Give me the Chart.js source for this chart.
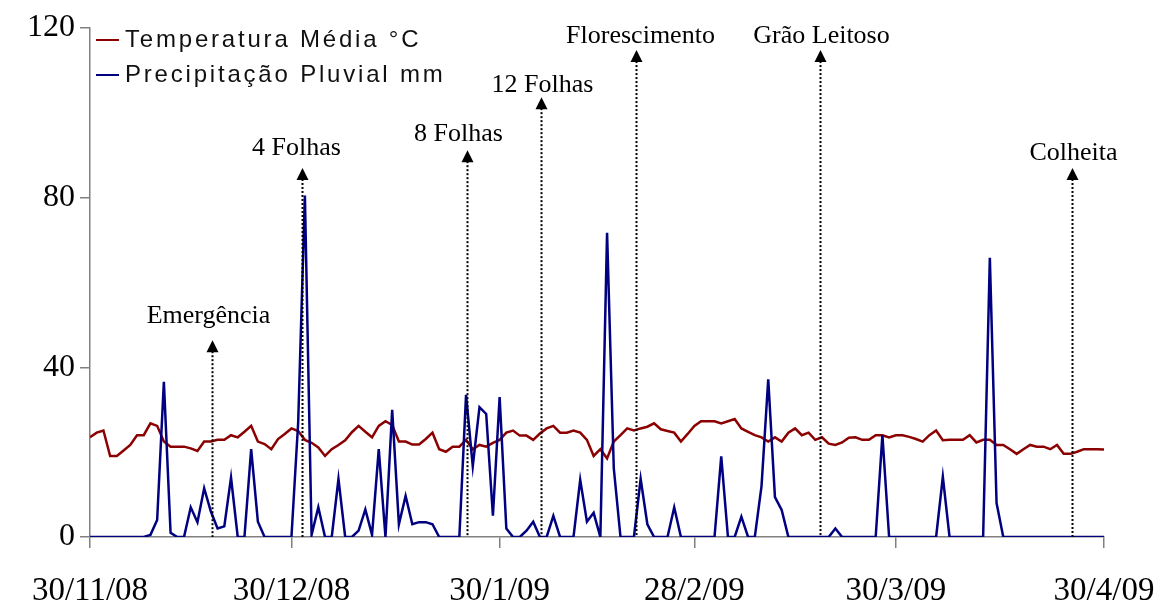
<!DOCTYPE html>
<html>
<head>
<meta charset="utf-8">
<script src="https://cdn.jsdelivr.net/npm/chart.js@4"></script>
<style>
  body { margin: 0; background: #fff; }
  #wrap { width: 1160px; height: 608px; }
</style>
</head>
<body>
<div id="wrap"><canvas id="chart" width="1160" height="608"></canvas></div>
<script>
// daily values, day 0 = 30/11/08 ... day 151 = 30/4/09
const temperatura = [
  23.5, 24.6, 25.1, 19.1, 19.1, 20.4, 21.7, 24.0, 24.0, 26.8,
  26.2, 22.5, 21.3, 21.3, 21.3, 20.9, 20.3, 22.5, 22.5, 22.9,
  22.9, 24.0, 23.5, 24.8, 26.2, 22.5, 21.9, 20.7, 23.1, 24.3,
  25.6, 25.0, 22.9, 22.2, 21.1, 19.1, 20.7, 21.7, 22.8, 24.7,
  26.2, 24.8, 23.5, 26.2, 27.3, 26.4, 22.5, 22.5, 21.8, 21.8,
  23.1, 24.6, 20.7, 20.1, 21.3, 21.3, 22.9, 20.7, 21.7, 21.3,
  22.2, 22.9, 24.6, 25.1, 23.9, 23.9, 22.9, 24.4, 25.6, 26.2,
  24.6, 24.6, 25.1, 24.6, 22.9, 19.1, 20.7, 18.5, 22.5, 24.0,
  25.6, 25.1, 25.6, 26.0, 26.8, 25.4, 25.0, 24.6, 22.5, 24.3,
  26.2, 27.3, 27.3, 27.3, 26.8, 27.3, 27.8, 25.6, 24.8, 24.0,
  23.5, 22.5, 23.5, 22.5, 24.6, 25.6, 24.0, 24.6, 22.9, 23.5,
  22.0, 21.7, 22.3, 23.4, 23.5, 22.9, 22.9, 24.0, 24.0, 23.5,
  24.0, 24.0, 23.6, 23.1, 22.5, 24.0, 25.1, 22.8, 22.9, 22.9,
  22.9, 24.0, 22.3, 22.9, 22.9, 21.7, 21.7, 20.7, 19.6, 20.7,
  21.7, 21.3, 21.3, 20.7, 21.7, 19.6, 19.6, 20.1, 20.7, 20.7,
  20.7, 20.6
]

const precipitacao = [
  0, 0, 0, 0, 0, 0, 0, 0, 0, 0.5,
  4, 36.6, 1, 0, 0, 7, 3.5, 11.5, 6, 2,
  2.5, 14, 0, 0, 20.7, 3.6, 0, 0, 0, 0,
  0, 27, 80.5, 0.5, 7, 0, 0, 13.7, 0, 0,
  1.5, 6.5, 0.5, 20.7, 0, 30, 3, 9.7, 3, 3.5,
  3.5, 3, 0, 0, 0, 0, 33.5, 16.7, 30.6, 29,
  5, 33, 2, 0, 0, 1.5, 3.6, 0, 0, 5,
  0, 0, 0, 13.5, 3.6, 5.7, 0, 71.7, 16.2, 0,
  0, 0, 13.7, 3, 0, 0, 0, 7, 0, 0,
  0, 0, 0, 0, 19, 0, 0, 4.8, 0, 0,
  12, 37.2, 9.4, 6.4, 0, 0, 0, 0, 0, 0,
  0, 2, 0, 0, 0, 0, 0, 0, 24, 0,
  0, 0, 0, 0, 0, 0, 0, 14.2, 0, 0,
  0, 0, 0, 0, 65.8, 8, 0, 0, 0, 0,
  0, 0, 0, 0, 0, 0, 0, 0, 0, 0,
  0, 0
]

const tickDays = [0, 30, 61, 90, 120, 151]
const tickLabels = ['30/11/08', '30/12/08', '30/1/09', '28/2/09', '30/3/09', '30/4/09']

// crop stages: day of the stage and the value where the arrow points
const stageNames = ['Emergência', '4 Folhas', '8 Folhas', '12 Folhas', 'Florescimento', 'Grão Leitoso', 'Colheita']
const stageDays = [18.2, 31.6, 56.1, 67.2, 81.3, 108.7, 146.2]
const stageTops = [46.4, 87, 91.2, 103.7, 114.8, 114.8, 87]

const serif = '"Liberation Serif", "Times New Roman", serif'

const stagesPlugin = {
  id: 'stages',
  afterDatasetsDraw(chart) {
    const { ctx, scales: { x, y } } = chart
    // label shift [dx, gap above the arrow tip]
    const labelShift = [[-4, 17], [-6, 13], [-9, 9], [1, 5], [4, 7], [1, 7], [1, 8]]
    ctx.save()
    stageNames.forEach((name, i) => {
      const px = Math.round(x.getPixelForValue(stageDays[i])) + 0.5
      const tip = y.getPixelForValue(stageTops[i])
      const base = y.getPixelForValue(0)
      ctx.strokeStyle = '#000'
      ctx.lineWidth = 2
      ctx.setLineDash([2, 2])
      ctx.beginPath()
      ctx.moveTo(px, tip + 11)
      ctx.lineTo(px, base)
      ctx.stroke()
      ctx.setLineDash([])
      ctx.fillStyle = '#000'
      ctx.beginPath()
      ctx.moveTo(px, tip)
      ctx.lineTo(px - 6, tip + 12)
      ctx.lineTo(px + 6, tip + 12)
      ctx.closePath()
      ctx.fill()
      ctx.font = '26px ' + serif
      ctx.textAlign = 'center'
      ctx.textBaseline = 'alphabetic'
      ctx.fillText(name, px + labelShift[i][0], tip - labelShift[i][1])
    })
    ctx.restore()
  }
}

const legendPlugin = {
  id: 'sideLegend',
  afterDraw(chart) {
    const { ctx } = chart
    const rows = [0, 1]
    ctx.save()
    rows.forEach((r) => {
      const ds = chart.data.datasets[r]
      const cy = 40 + r * 35
      ctx.strokeStyle = ds.borderColor
      ctx.lineWidth = 2
      ctx.beginPath()
      ctx.moveTo(96, cy)
      ctx.lineTo(119, cy)
      ctx.stroke()
      ctx.font = '24px "Liberation Sans", Arial, sans-serif'
      if ('letterSpacing' in ctx) ctx.letterSpacing = '2.8px'
      ctx.fillStyle = '#111'
      ctx.textAlign = 'left'
      ctx.textBaseline = 'alphabetic'
      ctx.fillText(ds.label, 125, cy + 7)
    })
    ctx.restore()
  }
}

new Chart(
  document.getElementById('chart'),
  {
    type: 'line',
    data: {
      datasets: [
        {
          label: 'Temperatura Média °C',
          data: temperatura.map((v, i) => ({ x: i, y: v })),
          borderColor: '#8b0000',
          borderWidth: 2.5,
          pointRadius: 0,
          fill: false,
          order: 1
        },
        {
          label: 'Precipitação Pluvial mm',
          data: precipitacao.map((v, i) => ({ x: i, y: v })),
          borderColor: '#000080',
          borderWidth: 2.5,
          pointRadius: 0,
          fill: false,
          order: 0
        }
      ]
    },
    options: {
      responsive: false,
      animation: false,
      layout: { padding: { top: 28, right: 56, left: 0, bottom: 0 } },
      plugins: {
        legend: { display: false },
        tooltip: { enabled: false }
      },
      scales: {
        x: {
          type: 'linear',
          min: 0,
          max: 151,
          afterBuildTicks: (scale) => { scale.ticks = tickDays.map(v => ({ value: v })) },
          afterFit: (scale) => {
            scale.height = 71
            scale.paddingLeft = 0
            scale.paddingRight = 0
          },
          border: { color: '#808080', width: 1.5 },
          grid: { drawOnChartArea: false, tickLength: 11, color: '#808080', lineWidth: 1.5 },
          ticks: {
            autoSkip: false,
            maxRotation: 0,
            padding: 24,
            color: '#000',
            font: { family: serif, size: 33 },
            callback: (value) => tickLabels[tickDays.indexOf(value)]
          }
        },
        y: {
          min: 0,
          max: 120,
          afterFit: (scale) => { scale.width = 90 },
          border: { color: '#808080', width: 1.5 },
          grid: { drawOnChartArea: false, tickLength: 10, color: '#808080', lineWidth: 1.5 },
          ticks: {
            stepSize: 40,
            padding: 5,
            color: '#000',
            font: { family: serif, size: 32 }
          }
        }
      }
    },
    plugins: [stagesPlugin, legendPlugin]
  }
)
</script>
</body>
</html>
